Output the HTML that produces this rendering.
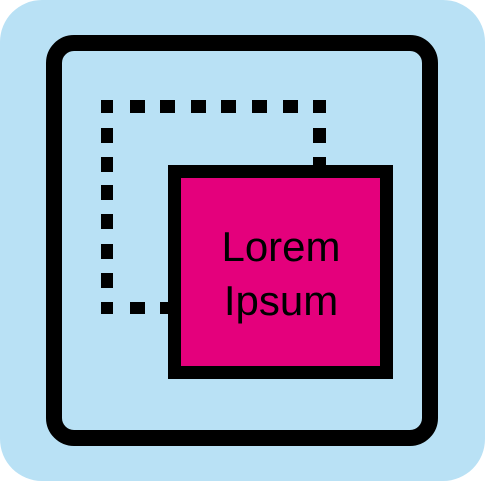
<!DOCTYPE html>
<html><head><style>body{margin:0;width:485px;height:481px;overflow:hidden;background:#fff}</style></head><body>
<svg width="485" height="481" xmlns="http://www.w3.org/2000/svg">
<rect x="0" y="0" width="485" height="481" rx="42" fill="#b9e1f5"/>
<rect x="54" y="43" width="376" height="395" rx="20" fill="none" stroke="#000" stroke-width="16"/>
<g fill="#000">
<rect x="101" y="100" width="12" height="13"/><rect x="130" y="100" width="15" height="13"/><rect x="160" y="100" width="15" height="13"/><rect x="191" y="100" width="15" height="13"/><rect x="221" y="100" width="15" height="13"/><rect x="252" y="100" width="15" height="13"/><rect x="283" y="100" width="15" height="13"/><rect x="313" y="100" width="13" height="13"/>
<rect x="313" y="128" width="13" height="15"/><rect x="313" y="157" width="13" height="10"/>
<rect x="101" y="128" width="12" height="15"/><rect x="101" y="157" width="12" height="15"/><rect x="101" y="185" width="12" height="15"/><rect x="101" y="214" width="12" height="15"/><rect x="101" y="244" width="12" height="15"/><rect x="101" y="273" width="12" height="15"/><rect x="101" y="302" width="12" height="12"/>
<rect x="130" y="302" width="15" height="12"/><rect x="160" y="302" width="10" height="12"/>
</g>
<rect x="174.5" y="171.5" width="212" height="201" fill="#e4007c" stroke="#000" stroke-width="13"/>
<text x="281" y="261" font-family="Liberation Sans, sans-serif" font-size="42" text-anchor="middle" fill="#000">Lorem</text>
<text x="281" y="315" font-family="Liberation Sans, sans-serif" font-size="42" text-anchor="middle" fill="#000">Ipsum</text>
</svg>
</body></html>
